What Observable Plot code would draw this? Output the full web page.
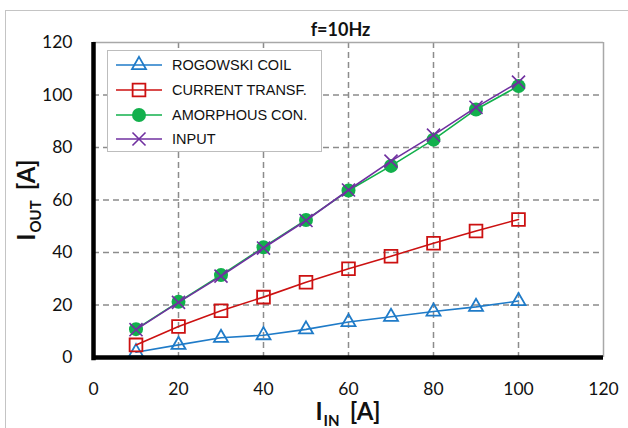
<!DOCTYPE html>
<html>
<head>
<meta charset="utf-8">
<script src="https://cdn.jsdelivr.net/npm/d3@7"></script>
<script src="https://cdn.jsdelivr.net/npm/@observablehq/plot@0.6"></script>
<style>
  html, body { margin: 0; padding: 0; background: #fff; }
  #wrap { position: relative; width: 628px; height: 428px; overflow: hidden; font-family: Lato, "Open Sans", sans-serif; }
  #wrap svg.plot { position: absolute; left: 0; top: 0; }
  .outer { position: absolute; left: 5px; top: 10px; width: 700px; height: 500px; border: 1px solid #c4c4c4; box-sizing: border-box; }
  .title { position: absolute; top: 18px; left: 0; width: 628px; text-align: center; font-weight: bold; font-size: 18px; color: #111; }
  .xlabel { position: absolute; top: 396px; left: 0; width: 690px; text-align: center; font-weight: bold; font-size: 24px; color: #111; }
  .ylabel { position: absolute; left: 40px; top: 200px; transform-origin: 0 0; transform: rotate(-90deg) translate(-50%, -100%); font-weight: bold; font-size: 24px; color: #111; white-space: nowrap; }
  .sub { font-size: 15px; position: relative; top: 6px; margin-left: 1px; margin-right: 10px; }
  .legend { position: absolute; left: 107px; top: 50px; width: 215px; height: 102px; border: 1px solid #bdbdbd; background: #fff; box-sizing: border-box; color: #111; }
  .legend .row { position: absolute; left: 7px; height: 20px; display: flex; align-items: center; }
  .legend .row span { margin-left: 9px; font-family: "Liberation Sans", Arial, sans-serif; font-size: 14.5px; }
</style>
</head>
<body>
<div id="wrap">
  <div class="outer"></div>
</div>
<script>
// ---- data ----
const iin = [10, 20, 30, 40, 50, 60, 70, 80, 90, 100];
const rogowskiCoil = [2, 4.8, 7.5, 8.5, 10.7, 13.5, 15.5, 17.5, 19.3, 21.5];
const currentTransf = [4.8, 11.8, 17.8, 23, 28.7, 33.8, 38.6, 43.5, 48.2, 52.6];
const amorphousCon = [10.8, 21.2, 31.4, 42, 52.4, 63.6, 73, 83, 94.5, 103.4];
const inputSeries = [10.6, 21, 31, 41.7, 52.2, 63.8, 74.8, 84.7, 95.3, 104.9];
const seriesNames = ["ROGOWSKI COIL", "CURRENT TRANSF.", "AMORPHOUS CON.", "INPUT"];
const seriesColors = ["#1f7bc8", "#cc1111", "#12b04c", "#7030a0"];
const xTicks = [0, 20, 40, 60, 80, 100, 120];
const yTicks = [0, 20, 40, 60, 80, 100, 120];
const gridTicks = [20, 40, 60, 80, 100];
const titleText = "f=10Hz";

const allSeries = [rogowskiCoil, currentTransf, amorphousCon, inputSeries];
const rows = [];
allSeries.forEach((vals, si) => vals.forEach((v, i) => rows.push({series: seriesNames[si], x: iin[i], y: v})));
const bySeries = name => rows.filter(d => d.series === name);

const markerSpec = [
  {symbol: "triangle", r: 5.2, fill: "none", stroke: seriesColors[0], strokeWidth: 1.8},
  {symbol: "square", r: 7.2, fill: "none", stroke: seriesColors[1], strokeWidth: 1.8},
  {symbol: "circle", r: 7, fill: seriesColors[2], stroke: "none", strokeWidth: 0},
  {symbol: "times", r: 6, fill: "none", stroke: seriesColors[3], strokeWidth: 1.6}
];

const marks = [
  Plot.gridX(gridTicks, {stroke: "#8c8c8c", strokeOpacity: 1, strokeWidth: 1.5, strokeDasharray: "6,4"}),
  Plot.gridY(gridTicks, {stroke: "#8c8c8c", strokeOpacity: 1, strokeWidth: 1.5, strokeDasharray: "6,4"}),
  Plot.ruleY([120], {stroke: "#a8a8a8", strokeWidth: 1.5}),
  Plot.ruleX([120], {stroke: "#a8a8a8", strokeWidth: 1.5}),
  Plot.axisX(xTicks, {tickSize: 0, tickPadding: 25, fontSize: 17.5, fill: "#111", label: null}),
  Plot.axisY(yTicks, {tickSize: 0, tickPadding: 21, fontSize: 17.5, fill: "#111", label: null})
];
seriesNames.forEach((name, si) => {
  const m = markerSpec[si];
  marks.push(Plot.line(bySeries(name), {x: "x", y: "y", stroke: seriesColors[si], strokeWidth: 1.6}));
  marks.push(Plot.dot(bySeries(name), {x: "x", y: "y", symbol: () => m.symbol, r: m.r, fill: m.fill, stroke: m.stroke, strokeWidth: m.strokeWidth}));
});
marks.push(Plot.ruleX([0], {y1: -1.2, y2: 120, stroke: "#000", strokeWidth: 4.5}));
marks.push(Plot.ruleY([0], {x1: 0, x2: 120, stroke: "#000", strokeWidth: 4.5}));

const chart = Plot.plot({
  width: 628,
  height: 428,
  marginLeft: 93,
  marginRight: 25,
  marginTop: 42,
  marginBottom: 71,
  x: {domain: [0, 120], axis: null, label: null},
  y: {domain: [0, 120], axis: null, label: null},
  symbol: {type: "identity"},
  style: {fontFamily: "Lato, 'Open Sans', sans-serif", background: "transparent", overflow: "visible"},
  marks
});
chart.classList.add("plot");
const wrap = document.getElementById("wrap");
wrap.appendChild(chart);

// title
const t = document.createElement("div");
t.className = "title";
t.style.left = "93px"; t.style.width = "495px";
t.textContent = titleText;
wrap.appendChild(t);

// axis titles
const xl = document.createElement("div");
xl.className = "xlabel";
xl.style.left = "93px"; xl.style.width = "510px";
xl.innerHTML = 'I<span class="sub">IN</span>[A]';
wrap.appendChild(xl);
const yl = document.createElement("div");
yl.className = "ylabel";
yl.innerHTML = 'I<span class="sub">OUT</span>[A]';
wrap.appendChild(yl);

// legend
const lg = document.createElement("div");
lg.className = "legend";
const rowTops = [4, 29, 54, 78];
const symMap = {triangle: d3.symbolTriangle, square: d3.symbolSquare, circle: d3.symbolCircle, times: d3.symbolTimes};
seriesNames.forEach((name, si) => {
  const m = markerSpec[si];
  const path = d3.symbol(symMap[m.symbol], Math.PI * m.r * m.r)();
  const row = document.createElement("div");
  row.className = "row";
  row.style.top = rowTops[si] + "px";
  row.innerHTML = `<svg width="48" height="20" style="overflow:visible"><line x1="1" x2="47" y1="10" y2="10" stroke="${seriesColors[si]}" stroke-width="1.6"/><path transform="translate(24,10)" d="${path}" fill="${m.fill}" stroke="${m.stroke}" stroke-width="${m.strokeWidth}"/></svg><span>${name}</span>`;
  lg.appendChild(row);
});
wrap.appendChild(lg);
</script>
</body>
</html>
